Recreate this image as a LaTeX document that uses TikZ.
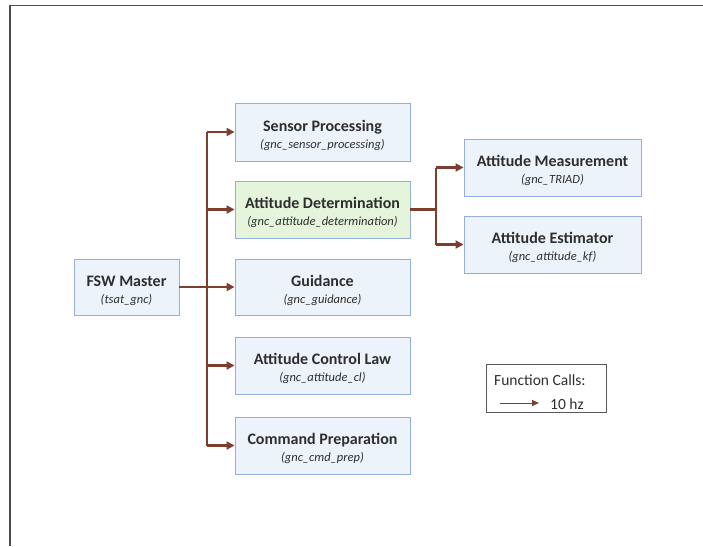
\documentclass[tikz,border=0pt]{standalone}
\usepackage{fontspec}
\setmainfont{Carlito}
\usetikzlibrary{arrows.meta}
\definecolor{boxfill}{HTML}{EDF3FB}
\definecolor{boxedge}{HTML}{97ADDD}
\definecolor{greenfill}{HTML}{E4F5DC}
\definecolor{callbrown}{HTML}{7E3E2F}
\definecolor{txt}{HTML}{2E2E2E}
\tikzset{
  fn/.style={draw=boxedge, fill=boxfill, line width=0.9pt, inner sep=0pt,
    align=center, text=txt},
  call/.style={draw=callbrown, line width=2.2pt, -{Triangle[length=8pt,width=8pt]}},
  trunk/.style={draw=callbrown, line width=2.2pt},
  lgtext/.style={text=txt, font=\fontsize{15.5}{18}\selectfont, anchor=west, inner sep=0pt},
}
% bold name over italic routine name; the strut lowers the pair slightly
\newcommand{\fnlabel}[2]{{\fontsize{16}{18}\selectfont\bfseries\rule{0pt}{18pt}#1}\\[5pt]{\fontsize{12.5}{14}\selectfont\itshape #2}}
\begin{document}
\begin{tikzpicture}[x=1pt,y=-1pt]
\useasboundingbox (0,0) rectangle (703,546);
% page frame (top and left edges)
\draw[line width=1.4pt, draw=black!70] (10,546) -- (10,5.5) -- (703,5.5);

% caller
\node[fn, minimum width=105pt, minimum height=56pt] (master) at (126.5,287) {\fnlabel{FSW Master}{(tsat\_gnc)}};

% functions called by the master
\node[fn, minimum width=175pt, minimum height=58pt] (sensor) at (322.5,132) {\fnlabel{Sensor Processing}{(gnc\_sensor\_processing)}};
\node[fn, fill=greenfill, minimum width=175pt, minimum height=57pt] (attdet) at (322.5,209.5) {\fnlabel{Attitude Determination}{(gnc\_attitude\_determination)}};
\node[fn, minimum width=175pt, minimum height=56pt] (guid) at (322.5,287) {\fnlabel{Guidance}{(gnc\_guidance)}};
\node[fn, minimum width=175pt, minimum height=57pt] (acl) at (322.5,365.5) {\fnlabel{Attitude Control Law}{(gnc\_attitude\_cl)}};
\node[fn, minimum width=175pt, minimum height=57pt] (cmd) at (322.5,445.5) {\fnlabel{Command Preparation}{(gnc\_cmd\_prep)}};

% functions called by attitude determination
\node[fn, minimum width=177pt, minimum height=57pt] (meas) at (552.5,167.5) {\fnlabel{Attitude Measurement}{(gnc\_TRIAD)}};
\node[fn, minimum width=177pt, minimum height=57pt] (est) at (552.5,244.5) {\fnlabel{Attitude Estimator}{(gnc\_attitude\_kf)}};

% master call tree
\coordinate (tk) at (207,0);
\draw[trunk] (tk |- sensor.west) -- (tk |- cmd.west);
\draw[call] (master.east) -- (guid.west);
\foreach \n in {sensor,attdet,acl,cmd}
  \draw[call] (tk |- \n.west) -- (\n.west);

% attitude determination call tree
\coordinate (tk2) at (436,0);
\draw[trunk] (attdet.east) -- (tk2 |- attdet.east);
\draw[trunk] (tk2 |- meas.west) -- (tk2 |- est.west);
\draw[call] (tk2 |- meas.west) -- (meas.west);
\draw[call] (tk2 |- est.west) -- (est.west);

% legend
\node[draw=black!65, line width=1pt, minimum width=120pt, minimum height=48pt, inner sep=0pt] (legend) at (546,388) {};
\node[lgtext] (lgtitle) at (494,380) {Function Calls:};
\coordinate (la) at (500,403);
\coordinate (lb) at (539,403);
\draw[draw=callbrown, line width=1pt, -{Triangle[length=7pt,width=6pt]}] (la) -- (lb);
\node[lgtext] (lgrate) at (550,404) {10 hz};
\end{tikzpicture}
\end{document}
